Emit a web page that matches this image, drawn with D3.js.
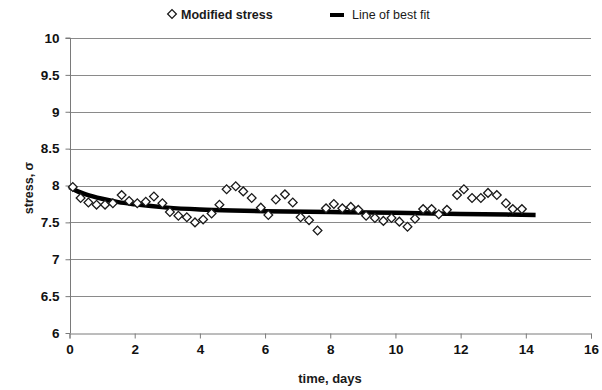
<!DOCTYPE html>
<html>
<head>
<meta charset="utf-8">
<script src="https://cdn.jsdelivr.net/npm/d3@7"></script>
<style>
  body { margin: 0; background: #fff; }
  text { font-family: "Liberation Sans", Arial, sans-serif; fill: #1a1a1a; }
</style>
</head>
<body>
<div id="chart"></div>
<script>
// measured stress points (time in days, stress)
var times = [0.10, 0.34, 0.58, 0.83, 1.09, 1.33, 1.60, 1.83, 2.08, 2.34, 2.59, 2.85,
  3.08, 3.34, 3.60, 3.85, 4.10, 4.36, 4.60, 4.82, 5.10, 5.33, 5.59, 5.87,
  6.10, 6.33, 6.61, 6.85, 7.09, 7.35, 7.61, 7.87, 8.11, 8.37, 8.63, 8.86,
  9.10, 9.37, 9.63, 9.88, 10.12, 10.37, 10.60, 10.85, 11.11, 11.33, 11.58, 11.89,
  12.10, 12.35, 12.62, 12.84, 13.11, 13.39, 13.60, 13.88];
var stress = [7.98, 7.83, 7.77, 7.74, 7.74, 7.76, 7.87, 7.79, 7.76, 7.78, 7.85, 7.76,
  7.64, 7.59, 7.57, 7.50, 7.54, 7.62, 7.74, 7.95, 7.99, 7.92, 7.83, 7.70,
  7.60, 7.81, 7.88, 7.77, 7.57, 7.53, 7.39, 7.69, 7.75, 7.69, 7.71, 7.67,
  7.59, 7.56, 7.52, 7.56, 7.51, 7.44, 7.55, 7.68, 7.68, 7.61, 7.67, 7.87,
  7.95, 7.83, 7.83, 7.90, 7.87, 7.76, 7.68, 7.68];

// best fit curve
var fitTimes = [0, 0.25, 0.5, 1, 1.5, 2, 3, 4, 5, 6, 8, 10, 12, 14.3];
var fitStress = [7.98, 7.92, 7.88, 7.82, 7.775, 7.745, 7.70, 7.675, 7.66, 7.65, 7.64, 7.63, 7.615, 7.60];

var xTicks = [0, 2, 4, 6, 8, 10, 12, 14, 16];
var yTicks = [6, 6.5, 7, 7.5, 8, 8.5, 9, 9.5, 10];

var W = 602, H = 390;
var margin = {top: 38, right: 11, bottom: 57, left: 69.5};

var svg = d3.select("#chart").append("svg")
  .attr("width", W)
  .attr("height", H);

var x = d3.scaleLinear().domain([0, 16]).range([margin.left, W - margin.right]);
var y = d3.scaleLinear().domain([6, 10]).range([H - margin.bottom, margin.top]);

// gridlines
svg.append("g")
  .selectAll("line")
  .data(yTicks.filter(d => d > 6))
  .join("line")
  .attr("x1", x(0)).attr("x2", x(16))
  .attr("y1", d => Math.round(y(d)) + 0.5).attr("y2", d => Math.round(y(d)) + 0.5)
  .attr("stroke", "#8a8a8a")
  .attr("stroke-width", 1.2);

// axes
var styleTicks = g => g.selectAll(".tick text")
  .style("font-family", "'Liberation Sans', Arial, sans-serif")
  .style("font-size", "13.5px")
  .style("font-weight", "700")
  .style("fill", "#111");

var xAxis = g => g
  .attr("transform", `translate(0,${Math.round(y(6)) + 0.5})`)
  .call(d3.axisBottom(x).tickValues(xTicks).tickSize(5).tickPadding(6).tickFormat(d3.format("d")))
  .call(g => g.selectAll(".domain, line").attr("stroke", "#7a7a7a"))
  .call(styleTicks);

var yAxis = g => g
  .attr("transform", `translate(${Math.round(x(0)) + 0.5},0)`)
  .call(d3.axisLeft(y).tickValues(yTicks).tickSize(5).tickPadding(6).tickFormat(d => d))
  .call(g => g.select(".domain").attr("d", `M-5,${y(10)}H0V${y(6)}`))
  .call(g => g.selectAll(".domain, line").attr("stroke", "#7a7a7a"))
  .call(styleTicks);

svg.append("g").call(xAxis);
svg.append("g").call(yAxis);

// best fit line
var line = d3.line()
  .x((d, i) => x(fitTimes[i]))
  .y(d => y(d))
  .curve(d3.curveMonotoneX);

svg.append("path")
  .datum(fitStress)
  .attr("fill", "none")
  .attr("stroke", "#000")
  .attr("stroke-width", 4.5)
  .attr("d", line);

// diamonds
var diamond = d3.symbol().type(d3.symbolSquare).size(38);
svg.append("g")
  .selectAll("path")
  .data(stress)
  .join("path")
  .attr("d", diamond)
  .attr("transform", (d, i) => `translate(${x(times[i])},${y(d)}) rotate(45)`)
  .attr("fill", "#fff")
  .attr("stroke", "#1a1a1a")
  .attr("stroke-width", 1.3);

// axis titles
svg.append("text")
  .attr("x", 330).attr("y", 383)
  .attr("text-anchor", "middle")
  .style("font-size", "13px").style("font-weight", "bold")
  .text("time, days");

svg.append("text")
  .attr("transform", "translate(33,188) rotate(-90)")
  .attr("text-anchor", "middle")
  .style("font-size", "12.5px").style("font-weight", "bold")
  .text("stress, σ");

// legend
var legend = svg.append("g");
legend.append("path")
  .attr("d", d3.symbol().type(d3.symbolSquare).size(38))
  .attr("transform", "translate(172,14) rotate(45)")
  .attr("fill", "#fff").attr("stroke", "#1a1a1a").attr("stroke-width", 1.3);
legend.append("text")
  .attr("x", 181).attr("y", 18.5)
  .style("font-size", "12.5px").style("font-weight", "bold")
  .text("Modified stress");
legend.append("line")
  .attr("x1", 330).attr("x2", 344).attr("y1", 15).attr("y2", 15)
  .attr("stroke", "#000").attr("stroke-width", 4);
legend.append("text")
  .attr("x", 352).attr("y", 18.5)
  .style("font-size", "12.5px")
  .text("Line of best fit");
</script>
</body>
</html>
